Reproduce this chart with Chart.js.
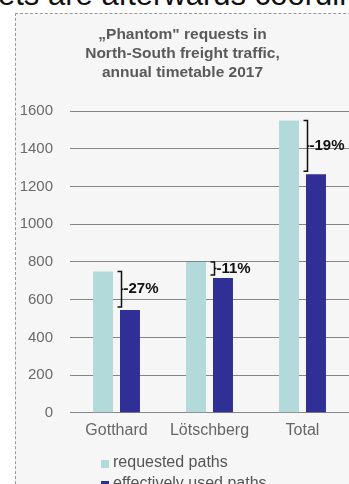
<!DOCTYPE html>
<html>
<head>
<meta charset="utf-8">
<script src="https://cdn.jsdelivr.net/npm/chart.js@4/dist/chart.umd.min.js"></script>
<style>
  html, body { margin: 0; padding: 0; background: #fff; overflow: hidden; width: 349px; height: 484px; }
  #cut { position: absolute; left: -2px; top: -21px; font: 31px/31px "Liberation Sans", Arial, sans-serif; color: #111; white-space: nowrap; }
  #box { position: absolute; left: 15px; top: 13px; width: 360px; height: 490px; border-left: 1px dashed #9a9a9a; border-top: 1px dashed #9a9a9a; background: #f6f6f6; }
  #wrap { position: absolute; left: 0; top: 0; width: 345px; height: 471px; }
</style>
</head>
<body>
<div id="cut">ets are afterwards coordinated</div>
<div id="box"><div id="wrap"><canvas id="the-graph"></canvas></div></div>
<script>
var categories = ['Gotthard', 'Lötschberg', 'Total'];
var requested  = [750, 800, 1550];
var used       = [545, 715, 1265];
var pctLabels  = ['-27%', '-11%', '-19%'];
var seriesNames = ['requested paths', 'effectively used paths'];
var yTicks = [0, 200, 400, 600, 800, 1000, 1200, 1400, 1600];

var FONT = '"Liberation Sans", Arial, sans-serif';
var colReq = '#b3dada', colUsed = '#2f2f96';

// brackets + percent labels between the two bars of each group
var bracketPlugin = {
  id: 'brackets',
  afterDatasetsDraw: function (chart) {
    var ctx = chart.ctx,
        y = chart.scales.y,
        a = chart.getDatasetMeta(0).data,
        b = chart.getDatasetMeta(1).data;
    ctx.save();
    ctx.strokeStyle = '#111';
    ctx.lineWidth = 1.5;
    ctx.fillStyle = '#111';
    ctx.font = 'bold 15px ' + FONT;
    ctx.textBaseline = 'middle';
    for (var i = 0; i < categories.length; i++) {
      var x = Math.round((a[i].x + a[i].width / 2 + b[i].x - b[i].width / 2) / 2 + 4) + 0.5,
          top = y.getPixelForValue(requested[i]),
          bot = y.getPixelForValue(used[i]) - 3,
          mid = (top + bot) / 2;
      ctx.beginPath();
      ctx.moveTo(x - 4, top); ctx.lineTo(x, top); ctx.lineTo(x, bot); ctx.lineTo(x - 4, bot);
      ctx.moveTo(x, mid); ctx.lineTo(x + 2, mid);
      ctx.stroke();
      ctx.fillText(pctLabels[i], x + 2, mid);
    }
    ctx.restore();
  }
};

// legend stacked vertically under the axis
var legendPlugin = {
  id: 'stackLegend',
  afterDraw: function (chart) {
    var ctx = chart.ctx, ds = chart.data.datasets;
    ctx.save();
    ctx.font = '16px ' + FONT;
    ctx.textBaseline = 'middle';
    for (var i = 0; i < ds.length; i++) {
      var ly = 449 + i * 21;
      ctx.fillStyle = ds[i].backgroundColor;
      ctx.fillRect(85, ly - 3, 8, 8);
      ctx.fillStyle = '#555';
      ctx.fillText(ds[i].label, 97, ly);
    }
    ctx.restore();
  }
};

var chart = new Chart(document.getElementById('the-graph'), {
  type: 'bar',
  data: {
    labels: categories,
    datasets: [
      { label: seriesNames[0], data: requested, backgroundColor: colReq },
      { label: seriesNames[1], data: used, backgroundColor: colUsed }
    ]
  },
  options: {
    responsive: true,
    maintainAspectRatio: false,
    animation: false,
    devicePixelRatio: 1,
    datasets: { bar: { categoryPercentage: 0.58, barPercentage: 0.74 } },
    layout: { padding: { left: 0, right: 12, top: 0, bottom: 45 } },
    plugins: {
      legend: { display: false },
      tooltip: { enabled: false },
      title: {
        display: true,
        text: ['\u201EPhantom" requests in', 'North-South freight traffic,', 'annual timetable 2017'],
        color: '#5a5a5a',
        font: { family: FONT, size: 15.5, weight: 'bold', lineHeight: 1.23 },
        padding: { top: 11, bottom: 29 }
      }
    },
    scales: {
      x: {
        grid: { display: false },
        border: { display: false },
        ticks: { color: '#666', font: { family: FONT, size: 16 }, padding: 0 }
      },
      y: {
        min: 0, max: 1600,
        afterBuildTicks: function (s) { s.ticks = yTicks.map(function (v) { return { value: v }; }); },
        afterFit: function (s) { s.width = 54; },
        border: { display: false },
        grid: { color: '#858585', drawTicks: false },
        ticks: {
          color: '#6a6a6a', font: { family: FONT, size: 15 }, padding: 17,
          callback: function (v) { return String(v); }
        }
      }
    }
  },
  plugins: [bracketPlugin, legendPlugin]
});
</script>
</body>
</html>
